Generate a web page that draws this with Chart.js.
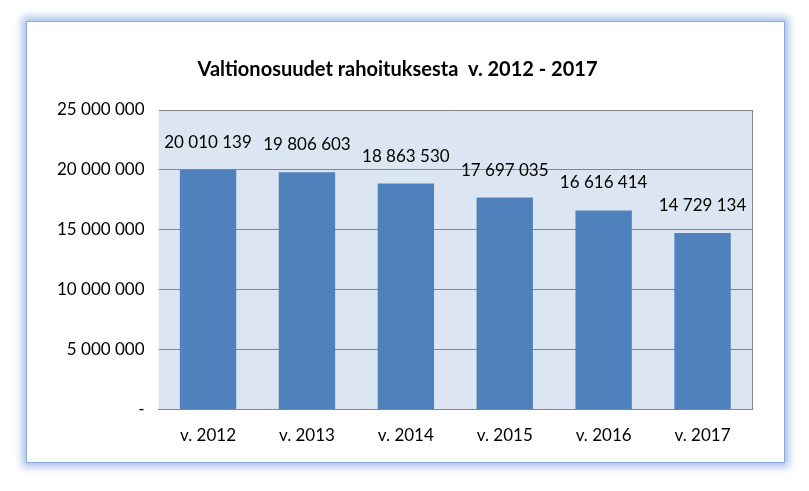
<!DOCTYPE html>
<html><head><meta charset="utf-8">
<script src="https://cdn.jsdelivr.net/npm/chart.js@4"></script>
<style>
html,body{margin:0;padding:0;background:#fff;width:809px;height:491px;overflow:hidden}
#frame{position:absolute;left:26px;top:21px;width:757px;height:440px;border:1px solid #8eaadb;box-shadow:0 0 8px 4px #a9c1e8;background:#fff}
canvas{position:absolute;left:0;top:0}
</style></head><body>
<div id="frame"><canvas id="c" width="757" height="440"></canvas></div>
<script>
const categories=["v. 2012","v. 2013","v. 2014","v. 2015","v. 2016","v. 2017"];
const values=[20010139,19806603,18863530,17697035,16616414,14729134];
const tickValues=[0,5000000,10000000,15000000,20000000,25000000];
const fmt=v=>v===0?"-":String(v).replace(/\B(?=(\d{3})+(?!\d))/g," ");
const F="Lato, 'Liberation Sans', sans-serif";
const labelPlugin={id:'lbl',afterDatasetsDraw(ch){
 const ctx=ch.ctx,meta=ch.getDatasetMeta(0);
 ctx.save();ctx.font="17px "+F;ctx.fillStyle="#000";ctx.textAlign="center";ctx.textBaseline="bottom";
 meta.data.forEach((b,i)=>{ctx.fillText(fmt(values[i]),b.x,b.y-19);});ctx.restore();}};
const bgPlugin={id:'bg',beforeDraw(ch){const a=ch.chartArea;const c=ch.ctx;c.save();c.fillStyle="#dce6f2";c.fillRect(a.left,a.top,a.right-a.left,a.bottom-a.top);c.strokeStyle="#868686";c.lineWidth=1;c.beginPath();c.moveTo(a.right+0.5,a.top);c.lineTo(a.right+0.5,a.bottom);c.stroke();c.restore();}};
new Chart(document.getElementById('c'),{type:'bar',
data:{labels:categories,datasets:[{data:values,backgroundColor:"#4f81bd",categoryPercentage:0.57,barPercentage:1}]},
options:{responsive:false,animation:false,
layout:{padding:{left:16,right:32,top:0,bottom:8}},
plugins:{legend:{display:false},tooltip:{enabled:false},
 title:{display:true,text:"Valtionosuudet rahoituksesta  v. 2012 - 2017",font:{family:F,size:20,weight:'bold'},color:"#000",padding:{top:36,bottom:28}}},
scales:{
 x:{grid:{display:false},border:{color:"#868686"},ticks:{font:{family:F,size:17},color:"#000",padding:8}},
 y:{min:0,max:25000000,afterBuildTicks:ax=>{ax.ticks=tickValues.map(v=>({value:v}));},
  grid:{color:"#868686",drawTicks:false},border:{display:false},
  ticks:{font:{family:F,size:17},color:"#000",padding:14,callback:v=>fmt(v)}}}},
plugins:[bgPlugin,labelPlugin]});
</script></body></html>
